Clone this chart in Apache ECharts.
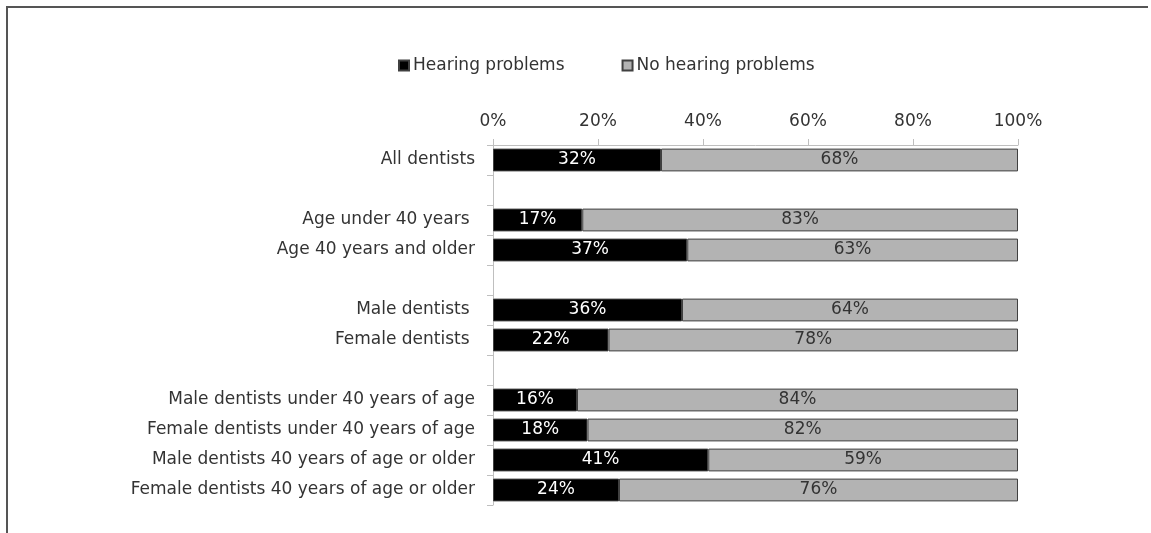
<!DOCTYPE html>
<html>
<head>
<meta charset="utf-8">
<script src="https://cdn.jsdelivr.net/npm/echarts@6/dist/echarts.min.js"></script>
<style>
  html, body { margin: 0; background: #fff; overflow: hidden; }
  #frame { position: absolute; left: 6px; top: 6px; width: 1140px; height: 540px;
           border-left: 2px solid #555; border-top: 2px solid #555; }
  #main { position: absolute; left: 0; top: 0; width: 1151px; height: 533px; }
</style>
</head>
<body>
<div id="frame"></div>
<div id="main"></div>
<script>
// categories, top to bottom ('' rows are spacers between groups)
const categories = [
  'All dentists',
  '',
  'Age under 40 years ',
  'Age 40 years and older',
  '',
  'Male dentists ',
  'Female dentists ',
  '',
  'Male dentists under 40 years of age',
  'Female dentists under 40 years of age',
  'Male dentists 40 years of age or older',
  'Female dentists 40 years of age or older'
];
const hearing = [32, null, 17, 37, null, 36, 22, null, 16, 18, 41, 24];
const noHearing = [68, null, 83, 63, null, 64, 78, null, 84, 82, 59, 76];
const seriesNames = ['Hearing problems', 'No hearing problems'];

const chart = echarts.init(document.getElementById('main'));
const font = 'DejaVu Sans';
const fs = 17;

chart.setOption({
  animation: false,
  textStyle: { fontFamily: font },
  legend: {
    top: 52,
    left: 393,
    itemWidth: 10,
    itemHeight: 10,
    itemGap: 57,
    icon: 'rect',
    textStyle: { fontFamily: font, fontSize: fs, color: '#333', padding: [0, 0, 0, -1] },
    data: seriesNames
  },
  grid: { left: 493, right: 133, top: 145, bottom: 28, containLabel: false },
  xAxis: {
    type: 'value',
    position: 'top',
    min: 0,
    max: 100,
    interval: 20,
    axisLine: { show: true, lineStyle: { color: '#bfbfbf' } },
    axisTick: { show: true, length: 6, lineStyle: { color: '#bfbfbf' } },
    splitLine: { show: false },
    axisLabel: { formatter: '{value}%', fontFamily: font, fontSize: fs, color: '#333', margin: 15 }
  },
  yAxis: {
    type: 'category',
    inverse: true,
    data: categories,
    axisLine: { show: true, lineStyle: { color: '#bfbfbf' } },
    axisTick: { show: true, length: 6, lineStyle: { color: '#bfbfbf' } },
    axisLabel: { fontFamily: font, fontSize: fs, color: '#333', margin: 18, padding: [3, 0, 0, 0] }
  },
  series: [
    {
      name: seriesNames[0],
      type: 'bar',
      stack: 'total',
      barCategoryGap: '24%',
      data: hearing,
      itemStyle: { color: '#000', borderColor: '#404040', borderWidth: 1 },
      label: { show: true, position: 'inside', formatter: '{c}%', color: '#fff', fontFamily: font, fontSize: fs, padding: [3, 0, 0, 0] }
    },
    {
      name: seriesNames[1],
      type: 'bar',
      stack: 'total',
      data: noHearing,
      itemStyle: { color: '#b3b3b3', borderColor: '#404040', borderWidth: 1 },
      label: { show: true, position: 'inside', formatter: '{c}%', color: '#333', fontFamily: font, fontSize: fs, padding: [3, 0, 0, 0] }
    }
  ]
});
</script>
</body>
</html>
